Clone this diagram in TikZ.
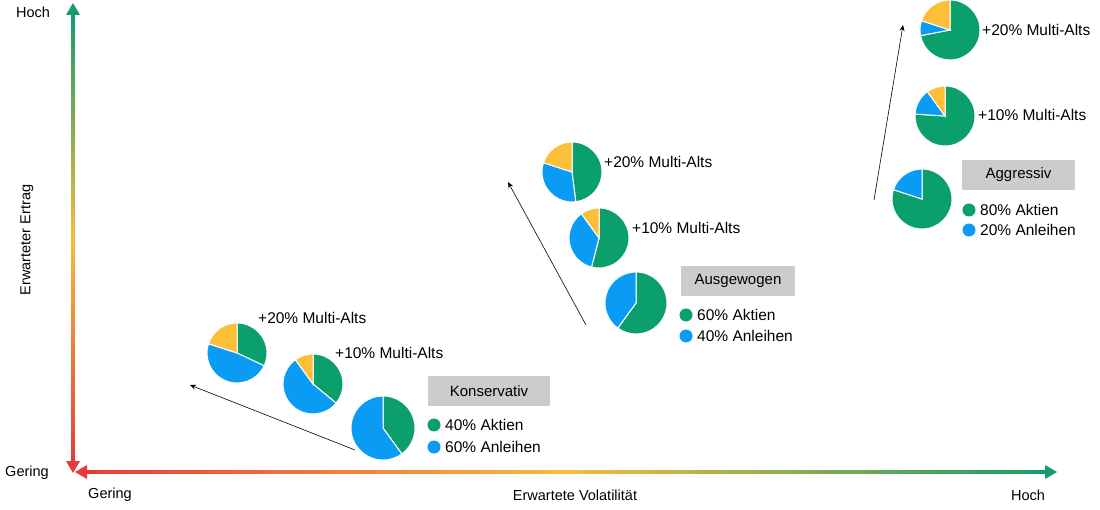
\documentclass[tikz,border=0pt]{standalone}
\usepackage{fontspec}
\setmainfont{Liberation Sans}
\definecolor{gG}{HTML}{0BA06B}
\definecolor{gB}{HTML}{0A9BF5}
\definecolor{gY}{HTML}{FDBE3A}
\definecolor{aG}{HTML}{169C6A}
\definecolor{aY}{HTML}{F6BC3C}
\definecolor{aR}{HTML}{E83A3C}
\definecolor{boxg}{HTML}{CCCCCC}
\newcommand{\myslice}[6]{\fill[#6,draw=white,line width=1pt] (#1,-#2) -- ++(#4:#3) arc[start angle=#4,end angle=#5,radius=#3] -- cycle;}
\newcommand{\mypie}[6]{%
 \pgfmathsetmacro{\aa}{90-3.6*#4}\pgfmathsetmacro{\bb}{\aa-3.6*#5}%
 \myslice{#1}{#2}{#3}{90}{\aa}{gG}%
 \myslice{#1}{#2}{#3}{\aa}{\bb}{gB}%
 \ifdim #6pt>0pt \myslice{#1}{#2}{#3}{\bb}{-270}{gY}\fi}
\tikzset{lbl/.style={anchor=west,font=\fontsize{15.5}{17}\selectfont,inner sep=0pt},
 boxn/.style={fill=boxg,minimum width=#1,minimum height=30pt,font=\fontsize{15}{17}\selectfont,inner sep=0pt},
 ax/.style={font=\fontsize{14.5}{16}\selectfont,inner sep=0pt},
 trend/.style={-{Stealth[length=6pt,width=5pt]},line width=0.6pt}}
\usetikzlibrary{arrows.meta}
\begin{document}
\begin{tikzpicture}[x=1pt,y=1pt]
\useasboundingbox (0,0) rectangle (1100,-510);
\shade[top color=aG,bottom color=aR,middle color=aY] (71.5,-14) rectangle (74.5,-462);
\fill[aG] (66,-15) -- (73,-3) -- (80,-15) -- cycle;
\fill[aR] (66,-461) -- (73,-473) -- (80,-461) -- cycle;
\shade[left color=aR,right color=aG,middle color=aY] (86,-470.5) rectangle (1046,-473.5);
\fill[aR] (87,-465) -- (75,-472) -- (87,-479) -- cycle;
\fill[aG] (1045,-465) -- (1057,-472) -- (1045,-479) -- cycle;
\node[ax] (yhi) at (33,-12) {Hoch};
\node[ax] (ylo) at (27,-473) {Gering};
\node[ax] (xlo) at (110,-495) {Gering};
\node[ax] (xmid) at (575,-495) {Erwartete Volatilität};
\node[ax] (xhi) at (1028,-495) {Hoch};
\node[ax,rotate=90] (ylab) at (27,-240) {Erwarteter Ertrag};
% Konservativ
\mypie{383}{428}{32}{40}{60}{0}
\mypie{313}{384}{30}{36}{54}{10}
\mypie{237}{353}{30}{32}{48}{20}
\node[lbl] (k20) at (258,-318) {+20\% Multi-Alts};
\node[lbl] (k10) at (335,-353) {+10\% Multi-Alts};
\node[boxn=122pt] (kb) at (489,-391) {Konservativ};
\fill[gG] (434,-425) circle (6.5); \node[lbl] (ka) at (445,-425) {40\% Aktien};
\fill[gB] (434,-447) circle (6.5); \node[lbl] (kn) at (445,-447) {60\% Anleihen};
\coordinate (ks) at (355,-450); \coordinate (ke) at (190,-385);
\draw[trend] (ks) -- (ke);
% Ausgewogen
\mypie{636}{303}{31}{60}{40}{0}
\mypie{599}{238}{30}{54}{36}{10}
\mypie{572}{172}{30}{48}{32}{20}
\node[lbl] (a20) at (604,-162) {+20\% Multi-Alts};
\node[lbl] (a10) at (632,-228) {+10\% Multi-Alts};
\node[boxn=114pt] (ab) at (738,-281) {Ausgewogen};
\fill[gG] (686,-315) circle (6.5); \node[lbl] (aa) at (697,-315) {60\% Aktien};
\fill[gB] (686,-336) circle (6.5); \node[lbl] (an) at (697,-336) {40\% Anleihen};
\coordinate (as) at (586,-325); \coordinate (ae) at (508,-182);
\draw[trend] (as) -- (ae);
% Aggressiv
\mypie{922}{199}{30}{80}{20}{0}
\mypie{945}{116}{30}{76}{14}{10}
\mypie{950}{30}{30}{72}{8}{20}
\node[lbl] (g20) at (982,-30) {+20\% Multi-Alts};
\node[lbl] (g10) at (978,-115) {+10\% Multi-Alts};
\node[boxn=113pt] (gb) at (1018.5,-175) {Aggressiv};
\fill[gG] (969,-210) circle (6.5); \node[lbl] (ga) at (980,-210) {80\% Aktien};
\fill[gB] (969,-230) circle (6.5); \node[lbl] (gn) at (980,-230) {20\% Anleihen};
\coordinate (gs) at (874,-200); \coordinate (ge) at (903,-25);
\draw[trend] (gs) -- (ge);
\end{tikzpicture}
\end{document}
